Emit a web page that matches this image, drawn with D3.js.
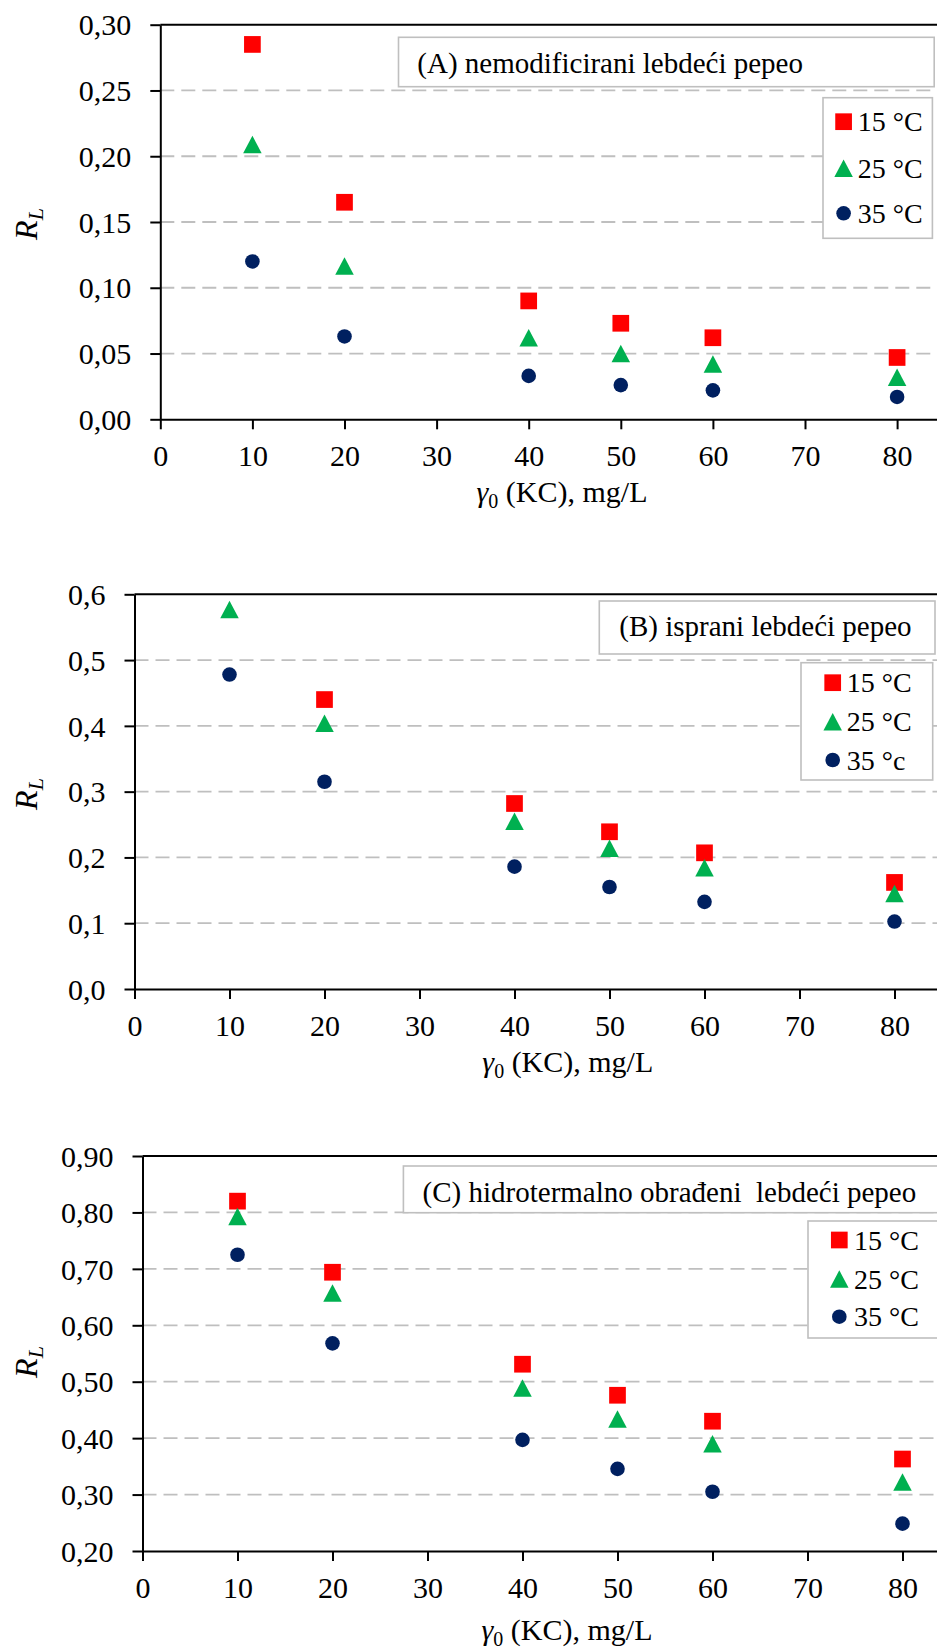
<!DOCTYPE html>
<html><head><meta charset="utf-8">
<script src="https://cdn.jsdelivr.net/npm/d3@7"></script>
<style>body{margin:0;background:#fff}svg{display:block}</style>
</head><body><svg id="c" width="937" height="1649"></svg>
<script>
// ---- data ----
const xValues = [10, 20, 40, 50, 60, 80];
const xTicks = [0, 10, 20, 30, 40, 50, 60, 70, 80];
const seriesLabels = ["15 °C", "25 °C", "35 °C"];
const seriesLabelsB = ["15 °C", "25 °C", "35 °c"];

const a15 = [0.285, 0.165, 0.090, 0.073, 0.062, 0.047];
const a25 = [0.209, 0.1165, 0.062, 0.050, 0.042, 0.032];
const a35 = [0.120, 0.063, 0.033, 0.026, 0.022, 0.017];

const b15 = [null, 0.440, 0.282, 0.239, 0.207, 0.162];
const b25 = [0.577, 0.404, 0.255, 0.214, 0.1845, 0.145];
const b35 = [0.478, 0.315, 0.186, 0.155, 0.1325, 0.1025];

const c15 = [0.820, 0.694, 0.531, 0.476, 0.430, 0.363];
const c25 = [0.793, 0.657, 0.489, 0.434, 0.390, 0.3225];
const c35 = [0.725, 0.568, 0.397, 0.3456, 0.305, 0.2485];

const yTicksA = [0, 0.05, 0.10, 0.15, 0.20, 0.25, 0.30];
const yTicksB = [0, 0.1, 0.2, 0.3, 0.4, 0.5, 0.6];
const yTicksC = [0.2, 0.3, 0.4, 0.5, 0.6, 0.7, 0.8, 0.9];

const titleA = "(A) nemodificirani lebdeći pepeo";
const titleB = "(B) isprani lebdeći pepeo";
const titleC = "(C) hidrotermalno obrađeni  lebdeći pepeo";

// ---- font selection (serif, Times-like) ----
function fontAvailable(name) {
  const c = document.createElement("canvas").getContext("2d");
  const s = "abcdefghijklmnopqrstuvwxyz ABCDEFGHIJ 0123456789(),°";
  let diff = false;
  ["monospace", "sans-serif"].forEach(base => {
    c.font = `40px ${base}`; const w1 = c.measureText(s).width;
    c.font = `40px "${name}", ${base}`; const w2 = c.measureText(s).width;
    if (Math.abs(w1 - w2) > 0.5) diff = true;
  });
  return diff;
}
const candidates = ["Liberation Serif", "Tinos", "Nimbus Roman", "Nimbus Roman No9 L", "FreeSerif", "Noto Serif", "DejaVu Serif", "Times New Roman"];
let FAMILY = "serif";
for (const f of candidates) { if (fontAvailable(f)) { FAMILY = `"${f}"`; break; } }

// scale factor so text widths match Times metrics
const ctx = document.createElement("canvas").getContext("2d");
ctx.font = `29px ${FAMILY}`;
const measured = ctx.measureText(titleA).width;
const K = Math.min(1.1, Math.max(0.7, 385.8 / measured));
const fs = v => (v * K).toFixed(2) + "px";

// ---- styles ----
const colors = ["#FF0000", "#00B050", "#002060"];
const shapes = ["square", "triangle", "circle"];

const svg = d3.select("#c");
svg.append("rect").attr("width", 937).attr("height", 1649).attr("fill", "#fff");

function marker(g, shape, color, cx, cy) {
  if (shape === "square") {
    const s = 16.7;
    g.append("rect").attr("x", cx - s / 2).attr("y", cy - s / 2).attr("width", s).attr("height", s).attr("fill", color);
  } else if (shape === "triangle") {
    const w = 18.5, h = 17.5;
    g.append("path").attr("d", `M${cx},${cy - h / 2}L${cx + w / 2},${cy + h / 2}L${cx - w / 2},${cy + h / 2}Z`).attr("fill", color);
  } else {
    g.append("circle").attr("cx", cx).attr("cy", cy).attr("r", 7.3).attr("fill", color);
  }
}

function txt(sel, size) {
  return sel.attr("font-family", null).style("font-family", FAMILY).style("font-size", fs(size)).style("fill", "#000");
}

function panel(p) {
  const g = svg.append("g");
  const x = d3.scaleLinear().domain([0, 90]).range([p.left, p.right]);
  const y = d3.scaleLinear().domain(p.yDomain).range([p.bottom, p.top]);
  const fmt = v => d3.format(p.fmt)(v).replace(".", ",");

  // gridlines
  g.selectAll(".grid").data(p.yTicks.filter(v => v > p.yDomain[0] && v < p.yDomain[1]))
    .enter().append("line")
    .attr("x1", p.left).attr("x2", p.right)
    .attr("y1", d => y(d)).attr("y2", d => y(d))
    .attr("stroke", "#BFBFBF").attr("stroke-width", 1.8).attr("stroke-dasharray", "14,7");

  // top border
  g.append("line").attr("x1", p.left).attr("x2", p.right).attr("y1", p.top).attr("y2", p.top)
    .attr("stroke", "#000").attr("stroke-width", 2);

  // axes
  const ax = g.append("g").attr("transform", `translate(0,${p.bottom})`)
    .call(d3.axisBottom(x).tickValues(xTicks).tickSize(10).tickSizeOuter(0).tickFormat(d3.format("d")));
  txt(ax.selectAll("text"), 30).attr("y", 47).attr("dy", null);
  const ay = g.append("g").attr("transform", `translate(${p.left},0)`)
    .call(d3.axisLeft(y).tickValues(p.yTicks).tickSize(10).tickSizeOuter(0).tickPadding(19).tickFormat(fmt));
  txt(ay.selectAll("text"), 30).attr("dy", "0.34em");
  [ax, ay].forEach(a => {
    a.attr("font-family", null).attr("font-size", null);
    a.select(".domain").attr("stroke", "#000").attr("stroke-width", 2);
    a.selectAll(".tick line").attr("stroke", "#000").attr("stroke-width", 2);
  });

  // points
  p.series.forEach((vals, si) => {
    vals.forEach((v, i) => {
      if (v == null) return;
      marker(g, shapes[si], colors[si], x(xValues[i]), y(v));
    });
  });

  // title box
  g.append("rect").attr("x", p.tb.x).attr("y", p.tb.y).attr("width", p.tb.w).attr("height", p.tb.h)
    .attr("fill", "#fff").attr("stroke", "#BFBFBF").attr("stroke-width", 1.6);
  txt(g.append("text").attr("x", p.tb.tx).attr("y", p.tb.ty), 29)
    .style("white-space", "pre").text(p.title);

  // legend
  g.append("rect").attr("x", p.lg.x).attr("y", p.lg.y).attr("width", p.lg.w).attr("height", p.lg.h)
    .attr("fill", "#fff").attr("stroke", "#BFBFBF").attr("stroke-width", 1.6);
  p.labels.forEach((lab, i) => {
    const cy = p.lg.rows[i];
    marker(g, shapes[i], colors[i], p.lg.mx, cy);
    txt(g.append("text").attr("x", p.lg.tx).attr("y", cy + 9.5), 28).text(lab);
  });

  // x axis title
  const xt = txt(g.append("text").attr("x", p.xt.x).attr("y", p.xt.y).attr("text-anchor", "middle"), 30);
  xt.append("tspan").style("font-style", "italic").text("γ");
  xt.append("tspan").attr("dy", 6).style("font-size", fs(20)).text("0");
  xt.append("tspan").attr("dy", -6).text(" (KC), mg/L");

  // y axis title
  const yt = txt(g.append("text").attr("transform", `translate(${p.yt.x},${p.yt.y}) rotate(-90)`)
    .attr("text-anchor", "middle"), 32).style("font-style", "italic");
  yt.append("tspan").text("R");
  yt.append("tspan").attr("dy", 6).style("font-size", fs(22)).text("L");
}

panel({
  left: 160.3, right: 989.2, top: 24.7, bottom: 419.3, yDomain: [0, 0.30], yTicks: yTicksA, fmt: ".2f",
  series: [a15, a25, a35], labels: seriesLabels, title: titleA,
  tb: { x: 398.5, y: 37.3, w: 535.7, h: 49.4, tx: 417.3, ty: 73 },
  lg: { x: 823, y: 97.7, w: 109.4, h: 140.6, rows: [121.7, 168.3, 213.3], mx: 843.6, tx: 857.8 },
  xt: { x: 562, y: 502 }, yt: { x: 37, y: 224 }
});
panel({
  left: 134.5, right: 989.5, top: 594.3, bottom: 989, yDomain: [0, 0.6], yTicks: yTicksB, fmt: ".1f",
  series: [b15, b25, b35], labels: seriesLabelsB, title: titleB,
  tb: { x: 599.3, y: 601, w: 335.7, h: 53, tx: 619.3, ty: 636 },
  lg: { x: 801, y: 662.7, w: 131.7, h: 117.3, rows: [682.7, 721.7, 760], mx: 832.7, tx: 846.7 },
  xt: { x: 567.8, y: 1072 }, yt: { x: 37, y: 794 }
});
panel({
  left: 142.5, right: 997.5, top: 1156, bottom: 1551, yDomain: [0.2, 0.9], yTicks: yTicksC, fmt: ".2f",
  series: [c15, c25, c35], labels: seriesLabels, title: titleC,
  tb: { x: 403.4, y: 1166, w: 560, h: 46.7, tx: 422.6, ty: 1202 },
  lg: { x: 808, y: 1221, w: 150, h: 117, rows: [1240, 1279, 1316.7], mx: 839.3, tx: 854 },
  xt: { x: 567, y: 1640 }, yt: { x: 37, y: 1362 }
});
</script></body></html>
